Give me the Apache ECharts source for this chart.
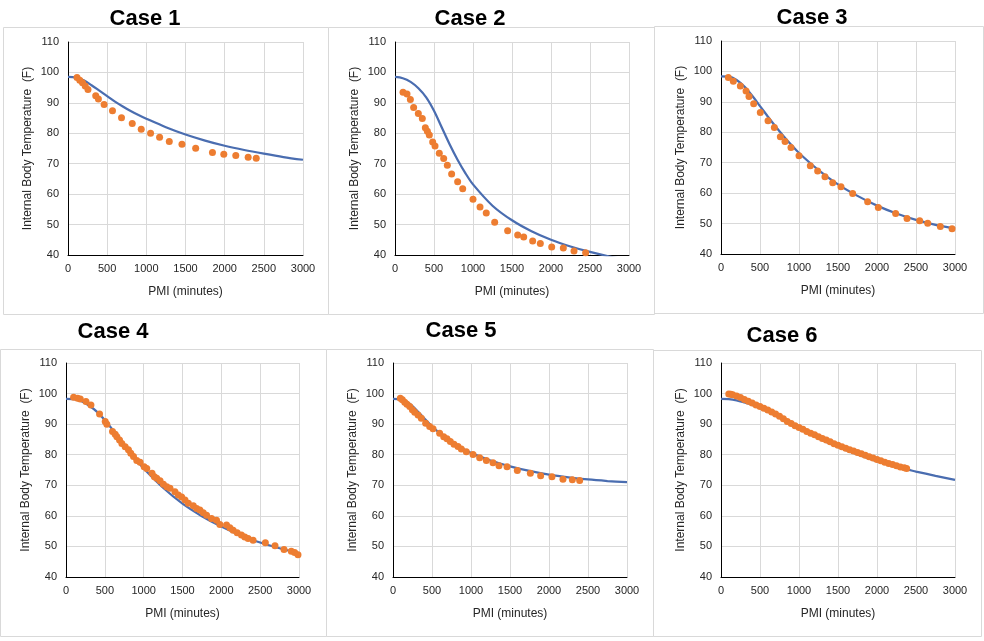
<!DOCTYPE html>
<html><head><meta charset="utf-8">
<script src="https://cdn.jsdelivr.net/npm/echarts@6/dist/echarts.min.js"></script>
<style>html,body{margin:0;padding:0;background:#fff}#c{width:984px;height:641px}</style>
</head><body><div id="c"></div>
<script>
// ---------- data ----------
const caseNames = ['Case 1','Case 2','Case 3','Case 4','Case 5','Case 6'];
const xTickMin = 0, xTickMax = 3000, xTickStep = 500;
const yTickMin = 40, yTickMax = 110, yTickStep = 10;

const modelTime = [0,100,200,300,400,500,600,700,800,900,1000,1250,1500,1750,2000,2250,2500,2750,3000];
const case1Model = [98.5,98.3,97.4,95.8,94.0,92.2,90.4,88.8,87.3,86.0,84.8,82.0,79.6,77.6,75.9,74.5,73.3,72.2,71.3];
const case2Model = [98.5,98.1,96.9,94.8,91.8,87.4,81.9,76.4,71.4,67.0,63.2,56.2,51.4,47.8,45.0,42.8,41.0,39.5,38.3];
const case3Model = [98.4,98.3,97.2,95.0,92.0,88.6,85.2,81.9,78.8,75.9,73.2,67.6,62.9,59.1,55.9,53.3,51.2,49.6,48.4];
const case4Model = [98.3,98.2,97.5,96.0,94.0,91.3,88.2,84.9,81.6,78.4,75.5,69.2,64.0,59.9,56.5,53.6,51.3,49.4,47.8];
const case5Model = [98.3,98.1,96.9,94.6,91.9,89.3,87.0,85.0,83.3,81.9,80.6,78.1,76.2,74.7,73.5,72.6,71.9,71.4,71.0];
const case6Model = [98.3,98.2,97.8,97.1,96.3,95.3,94.1,92.8,91.5,90.1,88.7,85.4,82.5,80.1,77.9,76.0,74.5,73.1,71.8];

const case1Time = [115,150,185,220,255,354,388,461,568,683,820,935,1054,1169,1293,1455,1630,1844,1989,2142,2300,2403];
const case1Temp = [98.3,97.4,96.6,95.5,94.4,92.3,91.3,89.5,87.4,85.1,83.2,81.3,80.0,78.7,77.3,76.4,75.1,73.7,73.1,72.7,72.1,71.8];

const case2Time = [103,154,197,239,299,350,389,415,440,483,513,568,624,671,726,803,868,1000,1090,1170,1278,1444,1573,1650,1765,1863,2009,2158,2295,2444];
const case2Temp = [93.5,92.9,91.1,88.5,86.5,84.9,81.8,80.7,79.4,77.1,75.8,73.4,71.7,69.5,66.6,64.1,61.8,58.3,55.8,53.8,50.8,48.0,46.6,45.9,44.6,43.8,42.6,42.3,41.3,40.7];

const case3Time = [94,158,248,321,359,419,504,603,684,761,821,897,1000,1145,1239,1333,1432,1538,1688,1880,2017,2239,2385,2547,2650,2812,2962];
const case3Temp = [98.0,96.8,95.2,93.6,91.8,89.4,86.5,83.8,81.6,78.5,77.0,75.0,72.3,69.0,67.3,65.4,63.4,62.1,59.9,57.2,55.3,53.3,51.7,50.9,50.1,49.0,48.3];

const case4Time = [98,150,184,257,321,432,505,526,599,633,655,689,719,762,804,834,869,911,954,1006,1040,1108,1138,1168,1211,1254,1297,1339,1403,1446,1489,1532,1575,1639,1682,1724,1767,1810,1874,1938,1981,2067,2110,2152,2204,2259,2302,2345,2409,2567,2691,2807,2901,2944,2987];
const case4Temp = [98.8,98.5,98.2,97.4,96.3,93.3,90.9,90.0,87.6,86.7,85.9,84.8,83.7,82.6,81.6,80.5,79.4,78.1,77.5,76.1,75.5,73.9,72.8,72.3,71.5,70.3,69.5,69.0,67.9,66.8,66.2,65.2,64.1,63.3,62.4,61.9,61.0,60.2,59.1,58.6,57.2,57.0,56.1,55.3,54.5,53.7,53.1,52.6,52.0,51.2,50.2,49.0,48.4,48.0,47.3];

const case5Time = [94,120,150,179,214,248,278,321,363,419,470,513,598,650,692,735,782,833,876,940,1026,1111,1197,1282,1359,1462,1594,1761,1893,2038,2179,2299,2393];
const case5Temp = [98.5,98.0,97.2,96.5,95.8,94.7,93.9,93.0,91.9,90.3,89.2,88.5,87.0,85.9,85.2,84.3,83.4,82.7,81.9,81.0,80.1,79.0,78.1,77.4,76.4,76.1,74.8,73.9,73.1,72.8,72.0,71.8,71.6];

const case6Time = [100,125,150,200,250,300,350,400,450,500,550,600,650,700,750,800,850,900,950,1000,1050,1100,1150,1200,1250,1300,1350,1400,1450,1500,1550,1600,1650,1700,1750,1800,1850,1900,1950,2000,2050,2100,2150,2200,2250,2300,2350,2380];
const case6Temp = [99.9,99.8,99.6,99.2,98.7,98.1,97.5,96.9,96.3,95.8,95.2,94.6,94.0,93.3,92.6,91.8,90.9,90.2,89.5,88.9,88.3,87.6,87.0,86.5,85.9,85.3,84.8,84.2,83.6,83.1,82.6,82.1,81.6,81.2,80.7,80.3,79.8,79.3,78.9,78.4,78.0,77.5,77.1,76.8,76.4,76.0,75.7,75.5];

const models = [case1Model,case2Model,case3Model,case4Model,case5Model,case6Model];
const obsTimes = [case1Time,case2Time,case3Time,case4Time,case5Time,case6Time];
const obsTemps = [case1Temp,case2Temp,case3Temp,case4Temp,case5Temp,case6Temp];

// ---------- layout ----------
const grids = [
  {left:68, top:42, width:235, height:213},
  {left:395, top:42, width:234, height:213},
  {left:721, top:41, width:234, height:213},
  {left:66, top:363, width:233, height:214},
  {left:393, top:363, width:234, height:214},
  {left:721, top:363, width:234, height:214}
];
const boxes = [
  {x:3,y:27,w:325,h:287},{x:328,y:27,w:326,h:287},{x:654,y:26,w:329,h:287},
  {x:0,y:349,w:326,h:287},{x:326,y:349,w:327,h:287},{x:653,y:350,w:328,h:286}
];
const titlePos = [[145,19],[470,19],[812,18],[113,332],[461,331],[782,336]];

const FONT = "'Liberation Sans', Arial, sans-serif";
const BLUE = '#4a6db0', ORANGE = '#ED7D31';

const option = {
  animation:false,
  grid: grids.map(g => Object.assign({containLabel:false}, g)),
  xAxis: grids.map((g,i) => ({
    gridIndex:i, type:'value', min:xTickMin, max:xTickMax, interval:xTickStep,
    name:'PMI (minutes)', nameLocation:'middle', nameGap:31,
    nameTextStyle:{fontFamily:FONT, fontSize:12, color:'#262626'},
    axisLine:{show:true, onZero:false, lineStyle:{color:'#000', width:1}},
    axisTick:{show:false},
    axisLabel:{fontFamily:FONT, fontSize:11, color:'#262626', margin:8, formatter: v => String(v)},
    splitLine:{show:true, lineStyle:{color:'#d9d9d9', width:1}}
  })),
  yAxis: grids.map((g,i) => ({
    gridIndex:i, type:'value', min:yTickMin, max:yTickMax, interval:yTickStep,
    name:'Internal Body Temperature  (F)', nameLocation:'middle', nameGap:34,
    nameTextStyle:{fontFamily:FONT, fontSize:12, color:'#262626'},
    axisLine:{show:true, onZero:false, lineStyle:{color:'#000', width:1}},
    axisTick:{show:false},
    axisLabel:{fontFamily:FONT, fontSize:11, color:'#262626', margin:9, formatter: v => String(v)},
    splitLine:{show:true, lineStyle:{color:'#d9d9d9', width:1}}
  })),
  series: [],
  graphic: []
};

for (let i = 0; i < 6; i++) {
  option.series.push({
    type:'line', xAxisIndex:i, yAxisIndex:i, smooth:0.3, symbol:'none', clip:true,
    lineStyle:{color:BLUE, width:2.25}, z:2,
    data: modelTime.map((t,k) => [t, models[i][k]])
  });
  option.series.push({
    type:'scatter', xAxisIndex:i, yAxisIndex:i, symbol:'circle', symbolSize:7,
    itemStyle:{color:ORANGE, opacity:1}, z:3,
    data: obsTimes[i].map((t,k) => [t, obsTemps[i][k]])
  });
  const b = boxes[i];
  option.graphic.push({type:'rect', silent:true, z:-1,
    shape:{x:b.x+0.5, y:b.y+0.5, width:b.w, height:b.h},
    style:{fill:'none', stroke:'#d9d9d9', lineWidth:1}});
  option.graphic.push({type:'text', silent:true,
    x:titlePos[i][0], y:titlePos[i][1],
    style:{text:caseNames[i], fontFamily:FONT, fontWeight:'bold', fontSize:22,
      fill:'#000', align:'center', verticalAlign:'middle'}});
}

const chart = echarts.init(document.getElementById('c'), null, {renderer:'canvas'});
chart.setOption(option);
</script></body></html>
